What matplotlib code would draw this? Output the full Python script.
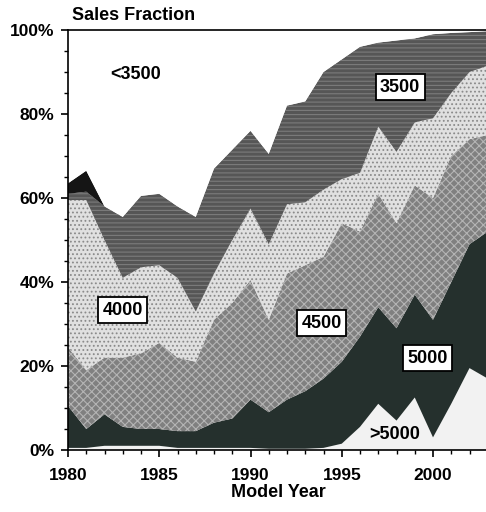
import matplotlib
matplotlib.use("Agg")
import matplotlib.pyplot as plt
from matplotlib.ticker import MultipleLocator, FuncFormatter

plt.rcParams['font.family'] = ['Liberation Sans', 'DejaVu Sans']
plt.rcParams['font.weight'] = 'bold'
plt.rcParams['hatch.linewidth'] = 0.8

# ----------------------------------------
# Sales fraction by weight class (percent)
# ----------------------------------------
years = list(range(1980, 2004))

gt5000 = [0.5, 0.5, 1, 1, 1, 1, 0.5, 0.5, 0.5, 0.5, 0.5, 0.3,
          0.3, 0.3, 0.5, 1.5, 5.5, 11, 7, 12.5, 3, 11, 19.5, 17]
w5000 = [10, 4.5, 7.5, 4.5, 4, 4, 4, 4, 6, 7, 11.5, 8.7,
         11.7, 13.7, 16.5, 19.5, 21.5, 23, 22, 24.5, 28, 29, 29.5, 35]
w4500 = [14, 14, 13.5, 16.5, 18, 20.5, 17.5, 16.5, 24.5, 27.5, 28.5, 22,
         30, 30, 29, 33, 25, 27, 25, 26, 29, 30, 25, 23]
w4000 = [35, 40.5, 28, 19, 20.5, 18.5, 19, 12, 11, 15, 17, 18,
         16.5, 15, 16, 10.5, 14, 16, 17, 15, 19, 15, 16, 16.5]
w3500 = [1.5, 2, 8, 14.5, 17, 17, 17, 22.5, 25, 21.5, 18.5, 21.5,
         23.5, 24, 28, 28.5, 30, 20, 26.5, 20, 20, 14.3, 9.5, 8.2]
w3000 = [2.5, 5, 0, 0, 0, 0, 0, 0, 0, 0, 0, 0,
         0, 0, 0, 0, 0, 0, 0, 0, 0, 0, 0, 0]
lt3500 = [100 - sum(v) for v in zip(gt5000, w5000, w4500, w4000, w3500, w3000)]

layers = [gt5000, w5000, w4500, w4000, w3500, w3000, lt3500]
face = ['#f2f2f2', '#25302d', '#808080', '#e0e0e0', '#565656', '#151515', 'white']
hatch = [None, None, 'xxxx', '....', '----', None, None]
hatch_col = [None, None, '#b4b4b4', '#8a8a8a', '#7c7c7c', None, None]

fig = plt.figure(figsize=(4.86, 5.12), dpi=100)
ax = fig.add_axes([68 / 486, 62 / 512, 419.75 / 486, 420 / 512])

polys = ax.stackplot(years, *layers, colors=face, linewidth=0)
for p, h, hc in zip(polys, hatch, hatch_col):
    if h:
        p.set_hatch(h)
        p.set_edgecolor(hc)
        p.set_linewidth(0)

ax.set_xlim(1980, 2003)
ax.set_ylim(0, 100)

# axes and ticks
ax.spines['right'].set_visible(False)
for s in ['left', 'bottom', 'top']:
    ax.spines[s].set_linewidth(1.2)
ax.xaxis.set_major_locator(MultipleLocator(5))
ax.xaxis.set_minor_locator(MultipleLocator(1))
ax.yaxis.set_major_locator(MultipleLocator(20))
ax.yaxis.set_minor_locator(MultipleLocator(5))
ax.yaxis.set_major_formatter(FuncFormatter(lambda v, p: f"{int(v)}%"))
ax.tick_params(which='major', direction='out', length=5, width=1.2, labelsize=12.5, pad=5)
ax.tick_params(which='minor', direction='out', length=3, width=1)
ax.tick_params(axis='x', pad=8)

ax.set_xlabel("Model Year", fontsize=13, fontweight='bold', labelpad=1)
fig.text(72 / 486, 1 - 15 / 512, "Sales Fraction", fontsize=13, fontweight='bold',
         ha='left', va='center')

# layer labels
box = dict(boxstyle='square,pad=0.25', fc='white', ec='black', lw=1.3)
ax.text(1983.7, 89.5, "<3500", fontsize=13, ha='center', va='center')
ax.text(1998.2, 86.4, "3500", fontsize=13, ha='center', va='center', bbox=box)
ax.text(1983.0, 33.3, "4000", fontsize=13, ha='center', va='center', bbox=box)
ax.text(1993.9, 30.2, "4500", fontsize=13, ha='center', va='center', bbox=box)
ax.text(1999.7, 21.9, "5000", fontsize=13, ha='center', va='center', bbox=box)
ax.text(1997.9, 3.6, ">5000", fontsize=13, ha='center', va='center')

fig.savefig("out.png", dpi=100)
